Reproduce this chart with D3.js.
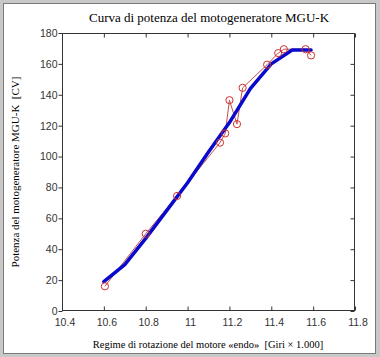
<!DOCTYPE html>
<html><head><meta charset="utf-8">
<script src="https://cdn.jsdelivr.net/npm/d3@7"></script>
<style>body{margin:0;background:#c8c8c8;}svg{display:block;} text{white-space:pre;}</style>
</head><body>
<svg id="c" width="380" height="357"></svg>
<script>
const title = "Curva di potenza del motogeneratore MGU-K";
const xLabel = "Regime di rotazione del motore «endo»  [Giri × 1.000]";
const yLabel = "Potenza del motogeneratore MGU-K  [CV]";
const xTicks = [10.4, 10.6, 10.8, 11, 11.2, 11.4, 11.6, 11.8];
const yTicks = [0, 20, 40, 60, 80, 100, 120, 140, 160, 180];
// measured points (red circles)
const measX = [10.605, 10.80, 10.95, 11.155, 11.18, 11.20, 11.236, 11.263, 11.38, 11.433, 11.46, 11.564, 11.59];
const measY = [16, 50, 74.5, 109, 115, 136.5, 121, 144.5, 159.5, 167, 169.5, 169.5, 165.5];
// fitted curve (blue)
const fitX = [10.6, 10.7, 10.8, 10.9, 11.0, 11.1, 11.2, 11.3, 11.4, 11.5, 11.59];
const fitY = [19, 30, 47, 65, 83, 103, 122, 144, 160, 169, 169];

const svg = d3.select("#c");
svg.append("rect").attr("x",3.5).attr("y",3.5).attr("width",372).attr("height",350)
  .attr("fill","#fff").attr("stroke","#7a7a7a");

const x = d3.scaleLinear().domain([10.4, 11.8]).range([62, 355]);
const y = d3.scaleLinear().domain([0, 180]).range([311, 33]);

const g = svg.append("g");
g.append("rect").attr("x",62.5).attr("y",33.5).attr("width",292).attr("height",277)
  .attr("fill","none").attr("stroke","#333").attr("stroke-width",1);

const tickFont = "Liberation Sans, Arial, sans-serif";
g.append("g").attr("transform","translate(0,310.5)")
  .call(d3.axisBottom(x).tickValues(xTicks).tickSize(-4).tickPadding(8).tickFormat(d3.format("")))
  .selectAll(".tick text").attr("dx", 2.5);
g.append("g").attr("transform","translate(0,33.5)")
  .call(d3.axisTop(x).tickValues(xTicks).tickSize(-4).tickFormat(""));
g.append("g").attr("transform","translate(62.5,0)")
  .call(d3.axisLeft(y).tickValues(yTicks).tickSize(4).tickPadding(1));
g.append("g").attr("transform","translate(354.5,0)")
  .call(d3.axisRight(y).tickValues(yTicks).tickSize(-4).tickFormat(""));
g.selectAll(".domain").remove();
g.selectAll(".tick line").attr("stroke","#333");
g.selectAll(".tick text").attr("fill","#333").style("font-family",tickFont).style("font-size","10.5px");

const measData = measX.map((v,i)=>[v, measY[i]]);
const fitData = fitX.map((v,i)=>[v, fitY[i]]);
const line = d3.line().x(d=>x(d[0])).y(d=>y(d[1]));
g.append("path").attr("d", line(measData)).attr("fill","none").attr("stroke","#c0504d").attr("stroke-width",1);
g.append("path").attr("d", line(fitData)).attr("fill","none").attr("stroke","#0a0acc").attr("stroke-width",3.5)
  .attr("stroke-linejoin","round").attr("stroke-linecap","round");
g.selectAll("circle.m").data(measData).join("circle").attr("class","m")
  .attr("cx",d=>x(d[0])).attr("cy",d=>y(d[1])).attr("r",3.6)
  .attr("fill","none").attr("stroke","#d03030").attr("stroke-width",1);

const serif = "Liberation Serif, Times New Roman, serif";
svg.append("text").attr("x",209).attr("y",22).attr("text-anchor","middle")
  .style("font-family",serif).style("font-size","13px").attr("fill","#000").text(title);
svg.append("text").attr("x",208).attr("y",348).attr("text-anchor","middle").attr("xml:space","preserve")
  .style("font-family",serif).style("font-size","10.5px").attr("fill","#000").text(xLabel);
svg.append("text").attr("transform","translate(19,172) rotate(-90)").attr("text-anchor","middle").attr("xml:space","preserve")
  .style("font-family",serif).style("font-size","11px").attr("fill","#000").text(yLabel);
</script>
</body></html>
